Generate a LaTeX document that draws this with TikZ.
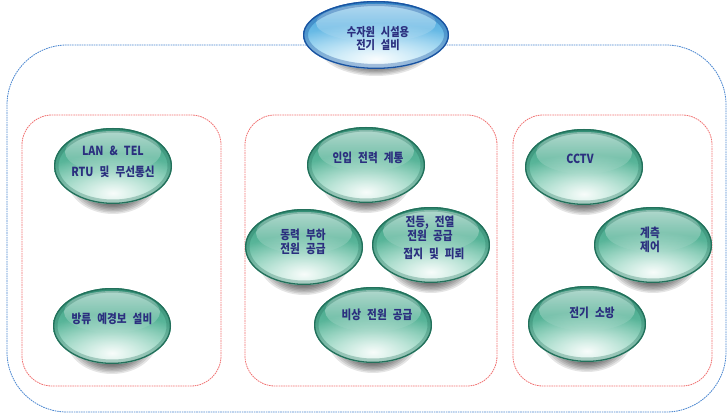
\documentclass[tikz,border=0pt]{standalone}
\usepackage{fontspec}
\setmainfont{Noto Sans CJK KR}[FakeStretch=0.85, WordSpace=2.5]
\usetikzlibrary{shapes.geometric,fadings}
\definecolor{txtc}{HTML}{2B2F7F}
\definecolor{tealtop}{HTML}{3A9E82}
\definecolor{tealbase}{HTML}{4CB595}
\definecolor{tealbot}{HTML}{7FD2B6}
\definecolor{tealdark}{HTML}{23705B}
\definecolor{bluetop}{HTML}{3E9ED8}
\definecolor{bluebase}{HTML}{5EC3EE}
\definecolor{bluebot}{HTML}{9EDDF6}
\definecolor{bluedark}{HTML}{1A52A0}
\definecolor{dashblue}{HTML}{4A86D0}
\definecolor{dashred}{HTML}{F07070}
\tikzfading[name=fadedown, top color=transparent!0, bottom color=transparent!100]
\tikzfading[name=glowfade, inner color=transparent!0, outer color=transparent!100]
\tikzset{
  bub/.style={ellipse, minimum width=118pt, minimum height=76pt, inner sep=0pt,
    path picture={
      \shade[top color=tealtop, middle color=tealbase, bottom color=tealbot] (path picture bounding box.south west) rectangle (path picture bounding box.north east);
      \fill[white, path fading=glowfade, opacity=0.95] ([yshift=-27pt]path picture bounding box.center) ellipse (82pt and 40pt);
      \fill[white, opacity=0.6, path fading=fadedown] ([yshift=14pt]path picture bounding box.center) ellipse (48pt and 21pt);
      \draw[tealdark, line width=9pt, opacity=0.3] (path picture bounding box.center) ellipse (59pt and 38pt);
      \draw[tealdark, line width=2.6pt] (path picture bounding box.center) ellipse (59pt and 38pt);
    }},
  topbub/.style={ellipse, minimum width=146pt, minimum height=68pt, inner sep=0pt,
    path picture={
      \shade[top color=bluetop, middle color=bluebase, bottom color=bluebot] (path picture bounding box.south west) rectangle (path picture bounding box.north east);
      \fill[white, path fading=glowfade, opacity=0.95] ([yshift=-24pt]path picture bounding box.center) ellipse (100pt and 36pt);
      \fill[white, opacity=0.6, path fading=fadedown] ([yshift=12pt]path picture bounding box.center) ellipse (60pt and 19pt);
      \draw[bluedark, line width=10pt, opacity=0.35] (path picture bounding box.center) ellipse (73pt and 34pt);
      \draw[bluedark, line width=2.6pt] (path picture bounding box.center) ellipse (73pt and 34pt);
    }},
  lbl/.style={font=\bfseries\fontsize{12.5}{14}\selectfont, text=txtc, align=center, inner sep=0pt},
  bluebox/.style={draw=dashblue, line width=0.8pt, dash pattern=on 1.6pt off 0.8pt, rounded corners=60pt},
  redbox/.style={draw=dashred, line width=0.8pt, dash pattern=on 1.6pt off 0.8pt, rounded corners=30pt}
}
\newcommand\mybubble[6]{%
  \foreach \i in {0,...,9}{\fill[black,opacity=0.1] (#2,#3+12) ellipse ({46pt-2.4pt*\i} and {36pt-1.4pt*\i});}
  \node[bub] (#1) at (#2,#3) {};
  \node[lbl] (#1-t) at (#4,#5) {#6};
}
\begin{document}
\begin{tikzpicture}[x=1pt,y=-1pt]
\useasboundingbox (0,0) rectangle (727,414);
% containers
\draw[bluebox] (7,45) rectangle (726,412);
\draw[redbox] (22,115) rectangle (221,386);
\draw[redbox] (245,115) rectangle (497,386);
\draw[redbox] (513,115) rectangle (712,386);
% top bubble
\foreach \i in {0,...,9}{\fill[black,opacity=0.1] (376,45) ellipse ({58pt-3pt*\i} and {31pt-1.3pt*\i});}
\node[topbub] (top) at (376,35) {};
\node[lbl, font=\bfseries\fontsize{12}{13}\selectfont] (top-t) at (378,39) {수자원 시설용\\전기 설비};
% left group
\mybubble{lan}{113}{166}{113}{162}{LAN \& TEL\\[7pt]RTU 및 무선통신}
\mybubble{bang}{112}{326}{112}{319}{방류 예경보 설비}
% middle group
\mybubble{inip}{366}{165}{368}{158}{인입 전력 계통}
\mybubble{dong}{304}{247}{303}{242}{동력 부하\\전원 공급}
\mybubble{jeon}{431}{245}{430}{238}{전등, 전열\\전원 공급\\[4pt]\hspace*{8pt}접지 및 피뢰}
\mybubble{bisang}{373}{325}{377}{315}{비상 전원 공급}
% right group
\mybubble{cctv}{584}{167}{580}{159}{CCTV}
\mybubble{gye}{653}{245}{650}{240}{계측\\제어}
\mybubble{sobang}{587}{324}{592}{313}{전기 소방}
\end{tikzpicture}
\end{document}
